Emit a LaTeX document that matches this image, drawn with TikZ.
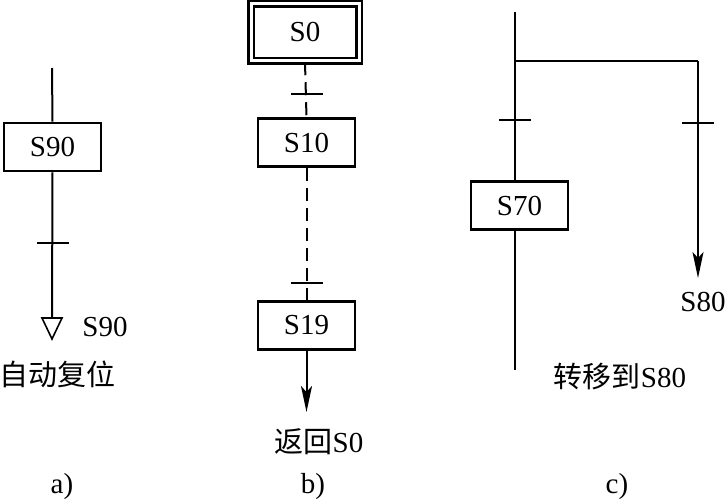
\documentclass[tikz,border=0pt]{standalone}
\usepackage{fontspec}
\setmainfont{Liberation Serif}
\newfontfamily\cjk{Noto Sans CJK SC}
\usetikzlibrary{arrows.meta}
\begin{document}
\begin{tikzpicture}[x=1pt,y=-1pt, line width=2pt,
  stepbox/.style={draw, line width=2.6pt, minimum width=97pt, minimum height=48pt, inner sep=0pt, fill=white, font=\fontsize{29}{29}\selectfont},
  lbl/.style={font=\fontsize{29}{29}\selectfont, inner sep=0pt},
  tickmark/.style={line width=2pt},
  dsh/.style={dash pattern=on 13pt off 7pt},
  arr/.style={-{Stealth[length=26pt,width=11pt,inset=6pt]}}]
\useasboundingbox (0,0) rectangle (726,500);

% ---------- a)
\coordinate (a0) at (52,68);
\coordinate (a1) at (52,318);
\node[stepbox] (s90) at (52.5,147) {S90};
\draw (a0) -- (s90.north);
\draw (s90.south) -- (a1);
\draw[tickmark] (37,243) -- (69,243);
\draw[line width=1.6pt] (42,318) -- (62,318) -- (52,339) -- cycle;
\node[lbl] (l90) at (105,327) {S90};
\node[lbl] (la) at (57,374) {\cjk 自动复位};
\node[lbl] (ca) at (62,487) {a)};

% ---------- b)
\node[stepbox, double, double distance=3pt, line width=2.5pt, minimum width=108pt, minimum height=57pt] (s0) at (305,32.5) {S0};
\node[stepbox] (s10) at (306.5,142.5) {S10};
\node[stepbox] (s19) at (306.5,325.5) {S19};
\coordinate (b1) at (306.5,412);
\draw[dsh] (s0.south) -- (s10.north);
\draw[dsh] (s10.south) -- (s19.north);
\draw[tickmark] (291,94) -- (323,94);
\draw[tickmark] (291,283) -- (323,283);
\draw[arr] (s19.south) -- (b1);
\node[lbl] (lb) at (319,442) {{\cjk 返回}S0};
\node[lbl] (cb) at (313,487) {b)};

% ---------- c)
\coordinate (c0) at (515,12);
\coordinate (c1) at (515,370);
\coordinate (cj) at (515,61);
\coordinate (cr) at (698,61);
\coordinate (ce) at (698,278);
\node[stepbox] (s70) at (519.5,205.5) {S70};
\draw (c0) -- (515,180);
\draw (515,231) -- (c1);
\draw (cj) -- (cr);
\draw[arr] (cr) -- (ce);
\draw[tickmark] (499,120) -- (531,120);
\draw[tickmark] (682,123) -- (714,123);
\node[lbl] (l80) at (703,302) {S80};
\node[lbl] (lc) at (620,377) {{\cjk 转移到}S80};
\node[lbl] (cc) at (617,487) {c)};
\end{tikzpicture}
\end{document}
